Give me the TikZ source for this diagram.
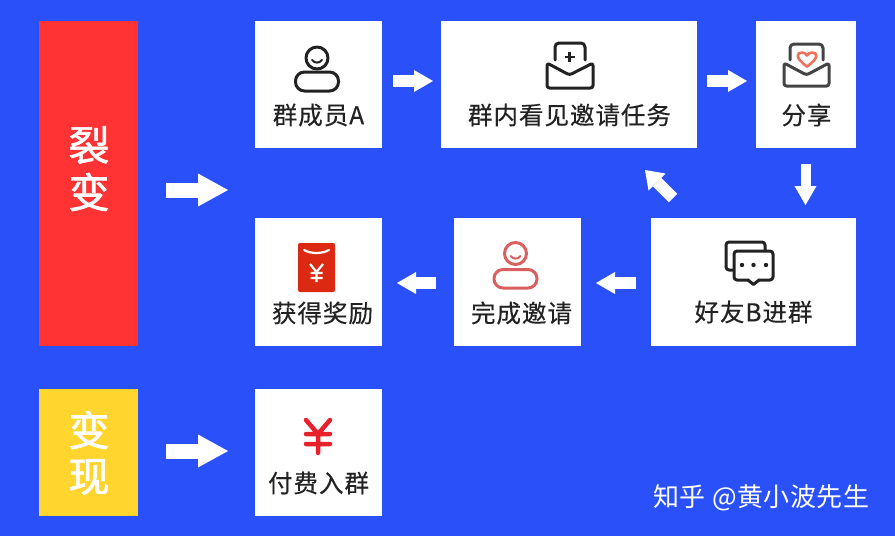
\documentclass[tikz,border=0pt]{standalone}
\usepackage{fontspec}
\usetikzlibrary{arrows.meta}
\newfontfamily\cjk[LetterSpace=4,FakeBold=0.35]{Noto Sans CJK SC}
\newfontfamily\cjkplain[LetterSpace=2]{Noto Sans CJK SC}
\newfontfamily\cjktitle[FakeBold=1.6]{Noto Sans CJK SC}
\definecolor{bgblue}{HTML}{2A50FA}
\definecolor{redbar}{HTML}{FF3333}
\definecolor{yellowbar}{HTML}{FFD52E}
\definecolor{inkgrey}{HTML}{222222}
\definecolor{envgrey}{HTML}{444444}
\definecolor{iconred}{HTML}{D9605F}
\definecolor{packetred}{HTML}{DC2A12}
\definecolor{yenred}{HTML}{E8202A}
\definecolor{heartred}{HTML}{F0705A}
\tikzset{
  x=1pt,y=-1pt,
  card/.style={fill=white,draw=none,inner sep=0pt,minimum height=127pt,outer sep=0pt,anchor=north west},
  bar/.style={draw=none,inner sep=0pt,minimum width=99pt,outer sep=0pt,anchor=north west},
  label/.style={font=\cjk\fontsize{24.5}{29}\selectfont,text=inkgrey,inner sep=0pt,anchor=center},
  bartext/.style={font=\cjktitle\fontsize{41}{49}\selectfont,text=white,inner sep=0pt,anchor=center},
  smallarrow/.style={draw=white,line width=12pt,-{Triangle[width=22pt,length=19pt,fill=white,line width=0pt]}},
  bigarrow/.style={draw=white,line width=15pt,-{Triangle[width=33pt,length=30pt,fill=white,line width=0pt]}},
  iconline/.style={line width=3pt,line join=round,line cap=round},
}
\begin{document}
\begin{tikzpicture}
\useasboundingbox (0,0) rectangle (895,536);
\fill[bgblue] (0,0) rectangle (895,536);
% bars
\node[bar,fill=redbar,minimum height=325pt] (lb) at (39,21) {};
\node[bar,fill=yellowbar,minimum height=127pt] (bx) at (39,389) {};
\node[bartext] (t1) at (89,145) {裂};
\node[bartext] (t2) at (89,192) {变};
\node[bartext] (t3) at (89,430) {变};
\node[bartext] (t4) at (89,477) {现};
% cards
\node[card,minimum width=127pt] (a) at (255,21) {};
\node[card,minimum width=256pt] (b) at (441,21) {};
\node[card,minimum width=100pt] (c) at (756,21) {};
\node[card,minimum width=205pt,minimum height=128pt] (d) at (651,218) {};
\node[card,minimum width=127pt,minimum height=128pt] (e) at (454,218) {};
\node[card,minimum width=127pt,minimum height=128pt] (f) at (255,218) {};
\node[card,minimum width=127pt] (g) at (255,389) {};
% labels
\node[label] (la) at (318.5,115) {群成员A};
\node[label] (lb2) at (569.5,115) {群内看见邀请任务};
\node[label] (lc) at (806.5,115) {分享};
\node[label] (ld) at (753.5,312) {好友B进群};
\node[label] (le) at (521.5,313) {完成邀请};
\node[label] (lf) at (322.5,313) {获得奖励};
\node[label] (lg) at (318.5,483) {付费入群};
\node[font=\cjkplain\fontsize{26}{31}\selectfont,text=white,inner sep=0pt,anchor=west] (wm) at (653,498) {知乎 @黄小波先生};
% arrows
\coordinate (s1) at (166,190); \coordinate (e1) at (228,190);
\coordinate (s2) at (166,451); \coordinate (e2) at (228,451);
\draw[bigarrow] (s1) -- (e1);
\draw[bigarrow] (s2) -- (e2);
\draw[smallarrow,shorten <=11pt,shorten >=8pt] (a.east |- 0,81) -- (b.west |- 0,81);
\draw[smallarrow,shorten <=10pt,shorten >=9pt] (b.east |- 0,81) -- (c.west |- 0,81);
\draw[smallarrow,line width=10pt,shorten <=16pt,shorten >=13pt] (c.south -| 805.5,0) -- (d.north -| 805.5,0);
\draw[smallarrow,shorten <=15pt,shorten >=15pt] (d.west |- 0,283) -- (e.east |- 0,283);
\draw[smallarrow,shorten <=18pt,shorten >=15pt] (e.west |- 0,283) -- (f.east |- 0,283);
\coordinate (u1) at (673,198); \coordinate (u2) at (645,170);
\draw[smallarrow,-{Triangle[width=24pt,length=17pt,fill=white,line width=0pt]}] (u1) -- (u2);
% person icon A
\begin{scope}[shift={(317,0)}]
\draw[iconline,draw=inkgrey] (0,58) circle (11);
\draw[iconline,draw=inkgrey,rounded corners=9pt] (-21.5,72) rectangle (21.5,91);
\draw[line width=2pt,line cap=round,draw=inkgrey] (-5,60) .. controls (-2,63.5) and (2,63.5) .. (5,60);
\end{scope}
% person icon completed
\begin{scope}[shift={(515.5,0)}]
\draw[iconline,draw=iconred] (0,253.5) circle (11);
\draw[iconline,draw=iconred,rounded corners=9pt] (-21.5,269.5) rectangle (21.5,288);
\draw[line width=2pt,line cap=round,draw=iconred] (-5,256) .. controls (-2,259.5) and (2,259.5) .. (5,256);
\end{scope}
% envelope plus
\draw[iconline,draw=inkgrey,rounded corners=4pt] (555,60) -- (555,43) -- (585,43) -- (585,60);
\draw[iconline,draw=inkgrey,rounded corners=2.5pt] (547,63) -- (569.5,75) -- (593,63) -- (593,88) -- (547,88) -- cycle;
\draw[line width=2.2pt,draw=inkgrey] (564.5,57) -- (574.5,57) (569.5,52) -- (569.5,62);
% envelope heart
\draw[iconline,draw=envgrey,rounded corners=4pt] (790,60) -- (790,44) -- (823,44) -- (823,60);
\draw[iconline,draw=envgrey,rounded corners=2.5pt] (784,63) -- (806.5,75) -- (829,63) -- (829,86) -- (784,86) -- cycle;
\draw[line width=2.6pt,draw=heartred,line join=round] (807,66.5) .. controls (795,58) and (796,52.5) .. (802,52.5) .. controls (804.5,52.5) and (806,54) .. (807,55.5) .. controls (808,54) and (809.5,52.5) .. (812,52.5) .. controls (818,52.5) and (819,58) .. (807,66.5) -- cycle;
% chat icon
\draw[iconline,draw=inkgrey,rounded corners=3pt] (733,270) -- (726,270) -- (726,242) -- (765,242) -- (765,250);
\draw[iconline,draw=inkgrey,rounded corners=3pt] (734,251) rectangle (773,280);
\fill[white] (749,278) rectangle (758,282);
\draw[iconline,draw=inkgrey] (748,280) -- (753.5,284.5) -- (759,280);
\fill[inkgrey] (742,265) circle (2.2) (753.5,265) circle (2.2) (766,265) circle (2.2);
% red packet
\fill[packetred,rounded corners=2pt] (298,243) rectangle (335,292);
\draw[line width=2.2pt,draw=white,line cap=round] (304,250) .. controls (311,254) and (322,254) .. (329,250);
\draw[line width=2.2pt,draw=white] (310,264) -- (316.5,272) -- (323,264) (316.5,272) -- (316.5,282) (310.5,273) -- (322.5,273) (310.5,278) -- (322.5,278);
% yen
\draw[line width=4.5pt,draw=yenred,line cap=round] (306,420) -- (318,434) -- (330,420) (318,434) -- (318,453) (306,434) -- (330,434) (306,444) -- (330,444);
\end{tikzpicture}
\end{document}
